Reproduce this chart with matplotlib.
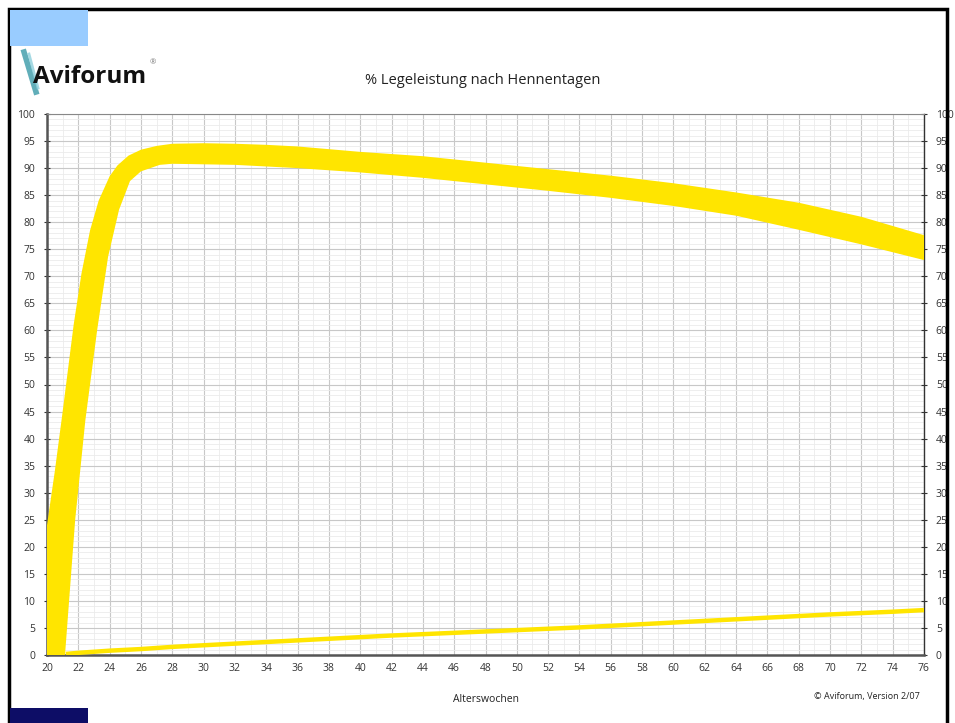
import matplotlib.pyplot as plt
from matplotlib.patches import Rectangle
from matplotlib.ticker import MultipleLocator

# upper and lower edge of the target band (% laying rate)
upper_weeks = [20, 20.5, 21, 21.7, 22.2, 22.75, 23.3, 24, 24.5, 25.2, 26, 27, 28, 30, 32, 34, 36, 38, 40, 44, 48, 52, 56, 60, 64, 68, 72, 76]
upper_pct = [24, 34, 45, 61, 70.5, 78.5, 84, 88.5, 90.5, 92.3, 93.4, 94.1, 94.5, 94.6, 94.5, 94.3, 94.0, 93.5, 93.0, 92.2, 91.0, 89.8, 88.6, 87.2, 85.5, 83.6, 81.0, 77.6]
lower_weeks = [20, 21.15, 21.8, 22.45, 23.2, 23.9, 24.6, 25.3, 26, 27.2, 28, 32, 36, 40, 44, 48, 52, 56, 60, 64, 68, 72, 76]
lower_pct = [0, 0, 25, 43.4, 60, 73.6, 82.3, 87.6, 89.4, 90.6, 90.8, 90.6, 90.0, 89.2, 88.2, 87.0, 85.8, 84.5, 83.0, 81.2, 78.6, 75.9, 73.0]

# thin line at the bottom
low_weeks = [21.2, 22, 24, 26, 28, 30, 34, 38, 42, 46, 50, 54, 58, 62, 66, 70, 74, 76]
low_pct = [0.2, 0.4, 0.8, 1.1, 1.5, 1.8, 2.4, 3.0, 3.6, 4.1, 4.6, 5.1, 5.7, 6.3, 6.9, 7.5, 8.0, 8.3]

plt.rcParams['font.family'] = ['Open Sans', 'DejaVu Sans']
yellow = '#FFE500'

fig = plt.figure(figsize=(9.55, 7.23), dpi=100)
W, H = 955, 723

# frame and the two coloured boxes
fig.patches.append(Rectangle((9 / W, -0.01), 938 / W, (723 - 9) / H + 0.01, transform=fig.transFigure,
                             fill=False, edgecolor='black', linewidth=2.5))
fig.patches.append(Rectangle((10 / W, (H - 46) / H), 78 / W, 36 / H, transform=fig.transFigure,
                             facecolor='#99CCFF', edgecolor='none'))
fig.patches.append(Rectangle((10 / W, 0), 78 / W, 15 / H, transform=fig.transFigure,
                             facecolor='#0D0D66', edgecolor='none'))

ax = fig.add_axes([47 / W, (H - 655) / H, 877 / W, 541 / H])

poly_x = upper_weeks + lower_weeks[::-1]
poly_y = upper_pct + lower_pct[::-1]
ax.fill(poly_x, poly_y, color=yellow, linewidth=0, zorder=3)
ax.plot(low_weeks, low_pct, color=yellow, linewidth=3.2, solid_capstyle='butt', zorder=3)

ax.set_xlim(20, 76)
ax.set_ylim(0, 100)
ax.xaxis.set_major_locator(MultipleLocator(2))
ax.xaxis.set_minor_locator(MultipleLocator(1))
ax.yaxis.set_major_locator(MultipleLocator(5))
ax.yaxis.set_minor_locator(MultipleLocator(1))
ax.grid(which='major', color='#c8c8c8', linewidth=0.8, zorder=1)
ax.grid(which='minor', color='#ebebeb', linewidth=0.6, zorder=0)
ax.set_axisbelow(True)

ax.tick_params(axis='both', which='minor', length=0)
ax.tick_params(axis='x', which='major', length=0, labelsize=7.5, pad=6, colors='#333333')
ax.tick_params(axis='y', which='major', length=5, width=0.8, labelsize=7.5, colors='#333333',
               left=True, right=True, labelleft=True, labelright=True, direction='inout', pad=6)

for side in ['left', 'bottom']:
    ax.spines[side].set_color('#555555')
    ax.spines[side].set_linewidth(1.8)
ax.spines['right'].set_color('#333333')
ax.spines['right'].set_linewidth(1.0)
ax.spines['top'].set_color('#888888')
ax.spines['top'].set_linewidth(0.8)

ax.set_xlabel('Alterswochen', fontsize=7.5, labelpad=14, color='#222222')

fig.text(483 / W, 1 - 80 / H, '% Legeleistung nach Hennentagen', ha='center', va='center',
         fontsize=10.5, color='#222222')
fig.text(920 / W, 1 - 697 / H, '© Aviforum, Version 2/07', ha='right', va='center',
         fontsize=6.5, color='#222222')

# logo
fig.lines.append(plt.Line2D([24 / W, 36 / W], [1 - 52 / H, 1 - 92 / H], transform=fig.transFigure,
                            color='#3a9aa8', linewidth=4, alpha=0.8))
fig.lines.append(plt.Line2D([29 / W, 38 / W], [1 - 54 / H, 1 - 88 / H], transform=fig.transFigure,
                            color='#8fd0dc', linewidth=2, alpha=0.8))
fig.text(33 / W, 1 - 83 / H, 'Aviforum', ha='left', va='baseline', fontsize=17.5, fontweight='bold',
         color='#111111')
fig.text(150 / W, 1 - 63 / H, '®', ha='left', va='center', fontsize=5.5, color='#777777')

fig.savefig('out.png', dpi=100)
